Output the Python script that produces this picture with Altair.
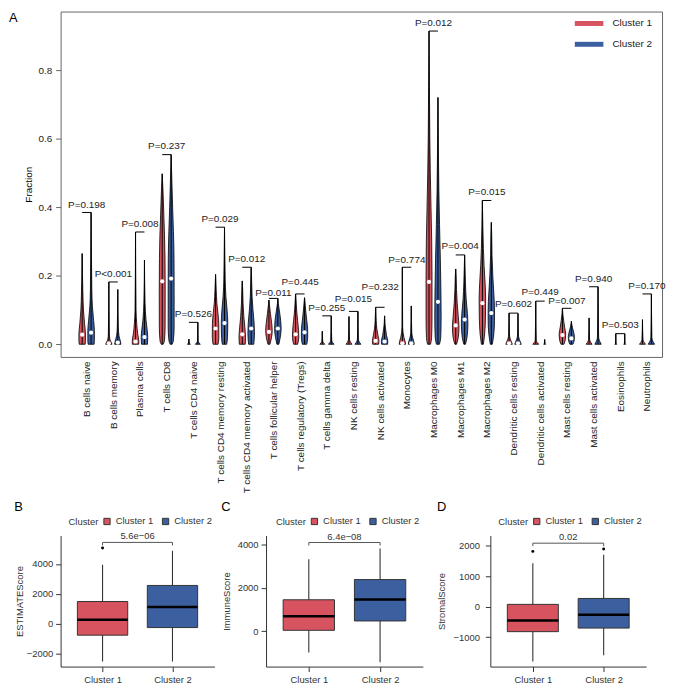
import altair as alt
import pandas as pd

RED = "#D7535F"
BLUE = "#3C5FA0"
FONT = "Liberation Sans"
TXT = "#333333"

# ---------------- Panel A data ----------------
cells = ["B cells naive", "B cells memory", "Plasma cells", "T cells CD8", "T cells CD4 naive",
         "T cells CD4 memory resting", "T cells CD4 memory activated", "T cells follicular helper",
         "T cells regulatory (Tregs)", "T cells gamma delta", "NK cells resting", "NK cells activated",
         "Monocytes", "Macrophages M0", "Macrophages M1", "Macrophages M2", "Dendritic cells resting",
         "Dendritic cells activated", "Mast cells resting", "Mast cells activated", "Eosinophils",
         "Neutrophils"]
p_values = ["P=0.198", "P<0.001", "P=0.008", "P=0.237", "P=0.526", "P=0.029", "P=0.012", "P=0.011",
            "P=0.445", "P=0.255", "P=0.015", "P=0.232", "P=0.774", "P=0.012", "P=0.004", "P=0.015",
            "P=0.602", "P=0.449", "P=0.007", "P=0.940", "P=0.503", "P=0.170"]
p_label_y = [0.407, 0.204, 0.352, 0.578, 0.088, 0.367, 0.249, 0.151, 0.182, 0.105, 0.132, 0.166,
             0.247, 0.939, 0.287, 0.446, 0.117, 0.153, 0.126, 0.192, 0.055, 0.170]
max_c1 = [0.265, 0.182, 0.328, 0.498, 0.015, 0.204, 0.185, 0.129, 0.147, 0.038, 0.081, 0.108,
          0.225, 0.915, 0.220, 0.420, 0.091, 0.126, 0.105, 0.077, 0.031, 0.072]
max_c2 = [0.385, 0.160, 0.246, 0.554, 0.064, 0.342, 0.225, 0.134, 0.136, 0.083, 0.096, 0.083,
          0.112, 0.721, 0.261, 0.356, 0.090, 0.014, 0.067, 0.168, 0.031, 0.147]
median_c1 = [0.028, 0.003, 0.008, 0.184, None, 0.046, 0.029, 0.036, 0.029, None, None, 0.010,
             0.003, 0.182, 0.055, 0.120, 0.003, None, 0.027, None, None, None]
median_c2 = [0.034, 0.005, 0.021, 0.192, None, 0.062, 0.046, 0.046, 0.035, None, None, 0.008,
             0.003, 0.124, 0.072, 0.091, 0.003, None, 0.017, None, None, None]
# violin half-width profiles: [fraction, half-width in px]
shape_c1 = [
    [[0, 3.0], [0.01, 3.3], [0.03, 3.3], [0.06, 2.4], [0.1, 1.3], [0.15, 0.7]],
    [[0, 3.2], [0.005, 2.5], [0.015, 1.0], [0.03, 0.5]],
    [[0, 3.2], [0.01, 3.3], [0.03, 2.2], [0.06, 1.2], [0.1, 0.5]],
    [[0, 1.0], [0.01, 2.2], [0.05, 2.9], [0.15, 3.0], [0.25, 2.8], [0.32, 2.3], [0.38, 1.6], [0.44, 0.9]],
    [[0, 1.5], [0.003, 0.5]],
    [[0, 2.5], [0.02, 3.3], [0.06, 3.2], [0.09, 2.4], [0.12, 1.3], [0.16, 0.6]],
    [[0, 3.0], [0.02, 3.3], [0.05, 2.6], [0.08, 1.6], [0.12, 0.8], [0.16, 0.4]],
    [[0, 1.0], [0.02, 2.6], [0.04, 3.3], [0.06, 2.8], [0.09, 1.5], [0.115, 0.5]],
    [[0, 2.0], [0.02, 3.2], [0.04, 3.0], [0.07, 2.0], [0.1, 1.0], [0.13, 0.4]],
    [[0, 2.5], [0.004, 1.2], [0.01, 0.4]],
    [[0, 3.0], [0.006, 1.5], [0.015, 0.5]],
    [[0, 3.0], [0.01, 3.3], [0.025, 2.4], [0.045, 1.2], [0.07, 0.5]],
    [[0, 3.2], [0.008, 2.8], [0.02, 1.6], [0.035, 0.7], [0.05, 0.3]],
    [[0, 1.5], [0.02, 2.6], [0.08, 3.0], [0.2, 3.0], [0.3, 2.7], [0.4, 2.0], [0.5, 1.3], [0.6, 0.8], [0.75, 0.4]],
    [[0, 0.8], [0.02, 2.6], [0.05, 3.3], [0.08, 2.6], [0.12, 1.5], [0.16, 0.8], [0.2, 0.4]],
    [[0, 1.0], [0.03, 2.3], [0.08, 3.1], [0.13, 3.3], [0.18, 2.7], [0.23, 1.7], [0.28, 1.0], [0.34, 0.5]],
    [[0, 3.3], [0.006, 2.5], [0.015, 1.2], [0.03, 0.4]],
    [[0, 3.0], [0.005, 1.5], [0.012, 0.5]],
    [[0, 1.5], [0.015, 3.0], [0.03, 3.3], [0.05, 2.2], [0.07, 1.2], [0.09, 0.4]],
    [[0, 3.0], [0.006, 1.5], [0.015, 0.5]],
    [[0, 1.0], [0.003, 0.3]],
    [[0, 3.0], [0.006, 1.5], [0.015, 0.5]],
]
shape_c2 = [
    [[0, 3.0], [0.01, 3.3], [0.04, 3.3], [0.07, 2.5], [0.11, 1.3], [0.16, 0.7], [0.25, 0.4]],
    [[0, 3.2], [0.01, 2.5], [0.025, 1.2], [0.05, 0.5]],
    [[0, 3.0], [0.02, 3.3], [0.04, 2.8], [0.07, 1.6], [0.12, 0.6]],
    [[0, 1.0], [0.01, 2.2], [0.05, 3.0], [0.15, 3.0], [0.25, 2.9], [0.33, 2.3], [0.40, 1.5], [0.47, 0.8]],
    [[0, 2.5], [0.005, 1.0], [0.01, 0.3]],
    [[0, 2.2], [0.02, 3.0], [0.06, 3.3], [0.1, 2.6], [0.14, 1.4], [0.19, 0.7], [0.25, 0.4]],
    [[0, 2.6], [0.03, 3.3], [0.06, 3.0], [0.1, 1.8], [0.14, 0.9], [0.18, 0.5]],
    [[0, 1.0], [0.02, 2.4], [0.045, 3.3], [0.07, 2.8], [0.1, 1.4], [0.12, 0.4]],
    [[0, 2.2], [0.02, 3.2], [0.045, 3.1], [0.07, 2.2], [0.1, 1.1], [0.125, 0.4]],
    [[0, 2.8], [0.005, 1.4], [0.012, 0.5]],
    [[0, 3.0], [0.006, 1.5], [0.015, 0.5]],
    [[0, 3.0], [0.01, 3.2], [0.025, 2.0], [0.045, 1.0], [0.06, 0.4]],
    [[0, 3.0], [0.008, 2.5], [0.02, 1.3], [0.035, 0.5]],
    [[0, 1.5], [0.02, 2.8], [0.08, 3.2], [0.15, 3.0], [0.25, 2.4], [0.35, 1.6], [0.45, 0.9], [0.55, 0.5]],
    [[0, 0.8], [0.02, 2.4], [0.06, 3.3], [0.09, 2.8], [0.13, 1.6], [0.18, 0.8], [0.22, 0.4]],
    [[0, 1.0], [0.03, 2.5], [0.07, 3.2], [0.1, 3.2], [0.15, 2.5], [0.2, 1.5], [0.26, 0.7], [0.32, 0.4]],
    [[0, 3.3], [0.006, 2.5], [0.015, 1.2], [0.03, 0.4]],
    [[0, 1.0], [0.003, 0.3]],
    [[0, 1.5], [0.012, 2.9], [0.022, 3.1], [0.035, 2.3], [0.05, 1.0], [0.06, 0.3]],
    [[0, 3.2], [0.008, 1.8], [0.02, 0.6]],
    [[0, 1.0], [0.003, 0.3]],
    [[0, 3.2], [0.008, 1.6], [0.02, 0.5]],
]
clusters = ["Cluster 1", "Cluster 2"]
panel_letters = ["A", "B", "C", "D"]

# ---------------- Panels B-D data ----------------
# [lower whisker, Q1, median, Q3, upper whisker]
estimate_box = [[-2550, -780, 250, 1480, 3950], [-2550, -270, 1110, 2560, 4890]]
estimate_out = [[5070], []]
immune_box = [[-980, 40, 690, 1445, 3315], [-1435, 470, 1460, 2375, 3800]]
immune_out = [[], []]
stromal_box = [[-1808, -822, -455, 75, 1430], [-1600, -705, -270, 270, 1711]]
stromal_out = [[1818], [1893]]
p_bottom = ["5.6e\u221206", "6.4e\u221208", "0.02"]
bracket_bottom = [5450, 4080, 2088]

# ---------------- Panel A chart ----------------
WA, HA = 606, 348
X0, X1 = -0.976, 21.566
U = (X1 - X0) / WA          # data units per pixel
OFF = 4.5 * U               # cluster offset from category centre

vrows, rrows, mrows, brows = [], [], [], []
for i in range(len(cells)):
    for ci, (cl, shp, top, med) in enumerate([("Cluster 1", shape_c1[i], max_c1[i], median_c1[i]),
                                              ("Cluster 2", shape_c2[i], max_c2[i], median_c2[i])]):
        cx = i + (-OFF if ci == 0 else OFF)
        vid = f"{i}_{ci}"
        for v, hw in shp + [[top, 0.0]]:
            vrows.append({"vid": vid, "cluster": cl, "v": v, "xlo": cx - hw * U, "xhi": cx + hw * U})
        rrows.append({"cx": cx, "top": top, "bottom": 0.0})
        if med is not None:
            mrows.append({"cx": cx, "med": med})
    brows.append({"xa": i - OFF, "xb": i + OFF, "xm": i, "y": max(max_c1[i], max_c2[i]),
                  "ty": p_label_y[i], "p": p_values[i]})

vdf = pd.DataFrame(vrows)
rdf = pd.DataFrame(rrows)
mdf = pd.DataFrame(mrows)
bdf = pd.DataFrame(brows)

xsA = alt.Scale(domain=[X0, X1], nice=False, zero=False)
ysA = alt.Scale(domain=[-0.037, 0.972], nice=False, zero=False)
label_arr = "[" + ",".join("'" + c + "'" for c in cells) + "]"
xaxA = alt.Axis(values=list(range(len(cells))), labelExpr=label_arr + "[datum.value]", title=None,
                grid=False, domain=False, ticks=False, tickSize=0, labelAngle=270, labelPadding=4,
                labelFontSize=10, labelOverlap=False, labelBound=False, labelFlush=False, labelColor="#222")
yaxA = alt.Axis(values=[0, 0.2, 0.4, 0.6, 0.8], format=".1f", title="Fraction", grid=False,
                domain=False, tickSize=5, tickColor="#666", labelPadding=4, labelFontSize=10,
                titleFontSize=10, titleFontWeight="normal", titlePadding=4, labelColor="#222")
cscale = alt.Scale(domain=clusters, range=[RED, BLUE])


def XA(field):
    return alt.X(field, scale=xsA, axis=xaxA)


def YA(field):
    return alt.Y(field, scale=ysA, axis=yaxA)


violins = alt.Chart(vdf).mark_area(orient="horizontal", stroke="black", strokeWidth=0.8,
                                   interpolate="monotone").encode(
    y=YA("v:Q"),
    x=alt.X("xlo:Q", scale=xsA, axis=xaxA, stack=None),
    x2="xhi:Q",
    fill=alt.Fill("cluster:N", scale=cscale, legend=None),
    detail="vid:N",
)
whiskers = alt.Chart(rdf).mark_rule(color="black", strokeWidth=1).encode(
    x=XA("cx:Q"), y=YA("bottom:Q"), y2="top:Q")
medians = alt.Chart(mdf).mark_circle(color="white", opacity=1, size=18).encode(
    x=XA("cx:Q"), y=YA("med:Q"))
brackets = alt.Chart(bdf).mark_rule(color="black", strokeWidth=1).encode(
    x=XA("xa:Q"), x2="xb:Q", y=YA("y:Q"))
ptext = alt.Chart(bdf).mark_text(fontSize=10, baseline="middle", color="#222",
                                 font=FONT).encode(x=XA("xm:Q"), y=YA("ty:Q"), text="p:N")
letterA = alt.Chart(pd.DataFrame({"t": [panel_letters[0]]})).mark_text(
    fontSize=13, align="left", baseline="alphabetic", color="black", font=FONT).encode(
    x=alt.value(-52), y=alt.value(11), text="t:N")
legdf = pd.DataFrame({"leg": clusters, "cx": [0, 0]})
legend_layer = alt.Chart(legdf).mark_rule(opacity=0).encode(
    x=XA("cx:Q"),
    stroke=alt.Stroke("leg:N", scale=cscale,
                      legend=alt.Legend(title=None, orient="none", legendX=524, legendY=3.5, padding=0,
                                        symbolType="M-2.4,0L2.4,0", symbolStrokeWidth=5, symbolSize=144,
                                        symbolOpacity=1, labelFontSize=10, labelOffset=15,
                                        rowPadding=0, labelColor="#222")))

panelA = alt.layer(violins, whiskers, medians, brackets, ptext, letterA, legend_layer).properties(
    width=WA, height=HA,
    view=alt.ViewBackground(stroke="#666", strokeWidth=1),
).resolve_scale(fill="independent", stroke="independent")

# ---------------- Panels B-D ----------------
HB = 132


def box_panel(letter, ytitle, stats, outs, ptxt, bry, domain, ticks, width, title_pad, label_pad, legend_x):
    span = domain[1] - domain[0]
    tip = span * 3.0 / HB
    df = pd.DataFrame({
        "cluster": clusters, "pos": [1, 2],
        "lo": [s[0] for s in stats], "q1": [s[1] for s in stats], "med": [s[2] for s in stats],
        "q3": [s[3] for s in stats], "hi": [s[4] for s in stats],
    })
    df["left"] = df["pos"] - 0.36
    df["right"] = df["pos"] + 0.36
    orows = [{"pos": k + 1, "val": v} for k in range(2) for v in outs[k]]
    odf = pd.DataFrame(orows if orows else [{"pos": 1, "val": None}])
    brdf = pd.DataFrame({"xa": [1], "xb": [2], "xm": [1.5], "y": [bry], "ytip": [bry - tip], "p": [ptxt]})

    xs = alt.Scale(domain=[0.4, 2.6], nice=False, zero=False)
    ys = alt.Scale(domain=domain, nice=False, zero=False)
    xax = alt.Axis(values=[1, 2], labelExpr="datum.value == 1 ? 'Cluster 1' : 'Cluster 2'", title=None,
                   grid=False, tickSize=5, labelPadding=3, labelFontSize=9.5, domainColor="#333",
                   tickColor="#333", labelColor=TXT, labelFlush=False)
    yax = alt.Axis(values=ticks, format="d", title=ytitle, grid=False, tickSize=5, labelPadding=label_pad,
                   labelFontSize=9.5, titleFontSize=9.5, titleFontWeight="normal", titlePadding=title_pad,
                   domainColor="#333", tickColor="#333", labelColor=TXT, titleColor=TXT)

    def X(f):
        return alt.X(f, scale=xs, axis=xax)

    def Y(f):
        return alt.Y(f, scale=ys, axis=yax)

    base = alt.Chart(df)
    whisk = base.mark_rule(color="#333", strokeWidth=1.1).encode(x=X("pos:Q"), y=Y("lo:Q"), y2="hi:Q")
    box = base.mark_rect(stroke="#333", strokeWidth=1).encode(
        x=X("left:Q"), x2="right:Q", y=Y("q1:Q"), y2="q3:Q",
        fill=alt.Fill("cluster:N", scale=cscale,
                      legend=alt.Legend(title="Cluster", titleOrient="left", orient="none", padding=0,
                                        legendX=legend_x, legendY=-19, direction="horizontal",
                                        symbolType="square", symbolSize=40, symbolStrokeColor="#333",
                                        symbolStrokeWidth=1, labelFontSize=9.5, titleFontSize=9.5,
                                        titleFontWeight="normal", labelOffset=4, columnPadding=6,
                                        titlePadding=3, labelColor=TXT, titleColor=TXT)))
    med = base.mark_rule(color="black", strokeWidth=2.5).encode(x=X("left:Q"), x2="right:Q", y=Y("med:Q"))
    pts = alt.Chart(odf).mark_circle(color="black", opacity=1, size=9).encode(x=X("pos:Q"), y=Y("val:Q"))
    br = alt.Chart(brdf).mark_rule(color="#555", strokeWidth=1).encode(x=X("xa:Q"), x2="xb:Q", y=Y("y:Q"))
    tip1 = alt.Chart(brdf).mark_rule(color="#555", strokeWidth=1).encode(x=X("xa:Q"), y=Y("y:Q"), y2="ytip:Q")
    tip2 = alt.Chart(brdf).mark_rule(color="#555", strokeWidth=1).encode(x=X("xb:Q"), y=Y("y:Q"), y2="ytip:Q")
    txt = alt.Chart(brdf).mark_text(fontSize=9.5, baseline="alphabetic", dy=-3, color=TXT, font=FONT).encode(
        x=X("xm:Q"), y=Y("y:Q"), text="p:N")
    return alt.layer(whisk, box, med, pts, br, tip1, tip2, txt).properties(
        width=width, height=HB,
        title=alt.TitleParams(letter, anchor="start", frame="bounds", fontSize=13, fontWeight="normal",
                              offset=3, font=FONT, color="black"),
        view=alt.ViewBackground(stroke="transparent"),
    )


panelB = box_panel(panel_letters[1], "ESTIMATEScore", estimate_box, estimate_out, p_bottom[0],
                   bracket_bottom[0], [-2890, 5910], [-2000, 0, 2000, 4000], 155, 2, 3, 8)
panelC = box_panel(panel_letters[2], "ImmuneScore", immune_box, immune_out, p_bottom[1],
                   bracket_bottom[1], [-1630, 4400], [0, 2000, 4000], 158, 6, 3, 10)
panelD = box_panel(panel_letters[3], "StromalScore", stromal_box, stromal_out, p_bottom[2],
                   bracket_bottom[2], [-1971, 2338], [-1000, 0, 1000, 2000], 157, 6, 6, 8)

inner = alt.hconcat(panelC, panelD, spacing=12).resolve_scale(
    fill="independent").resolve_legend(fill="independent")
bottom = alt.hconcat(panelB, inner, spacing=5).resolve_scale(
    fill="independent").resolve_legend(fill="independent")

chart = alt.vconcat(panelA, bottom, spacing=6).resolve_scale(
    fill="independent", stroke="independent").resolve_legend(
    fill="independent", stroke="independent").properties(padding=0).configure(
    font=FONT
).configure_axis(labelFont=FONT, titleFont=FONT).configure_axisX(labelOverlap=False).configure_legend(
    labelFont=FONT, titleFont=FONT).configure_title(font=FONT)

chart.save("out.html", embed_options={"renderer": "svg", "actions": False})
